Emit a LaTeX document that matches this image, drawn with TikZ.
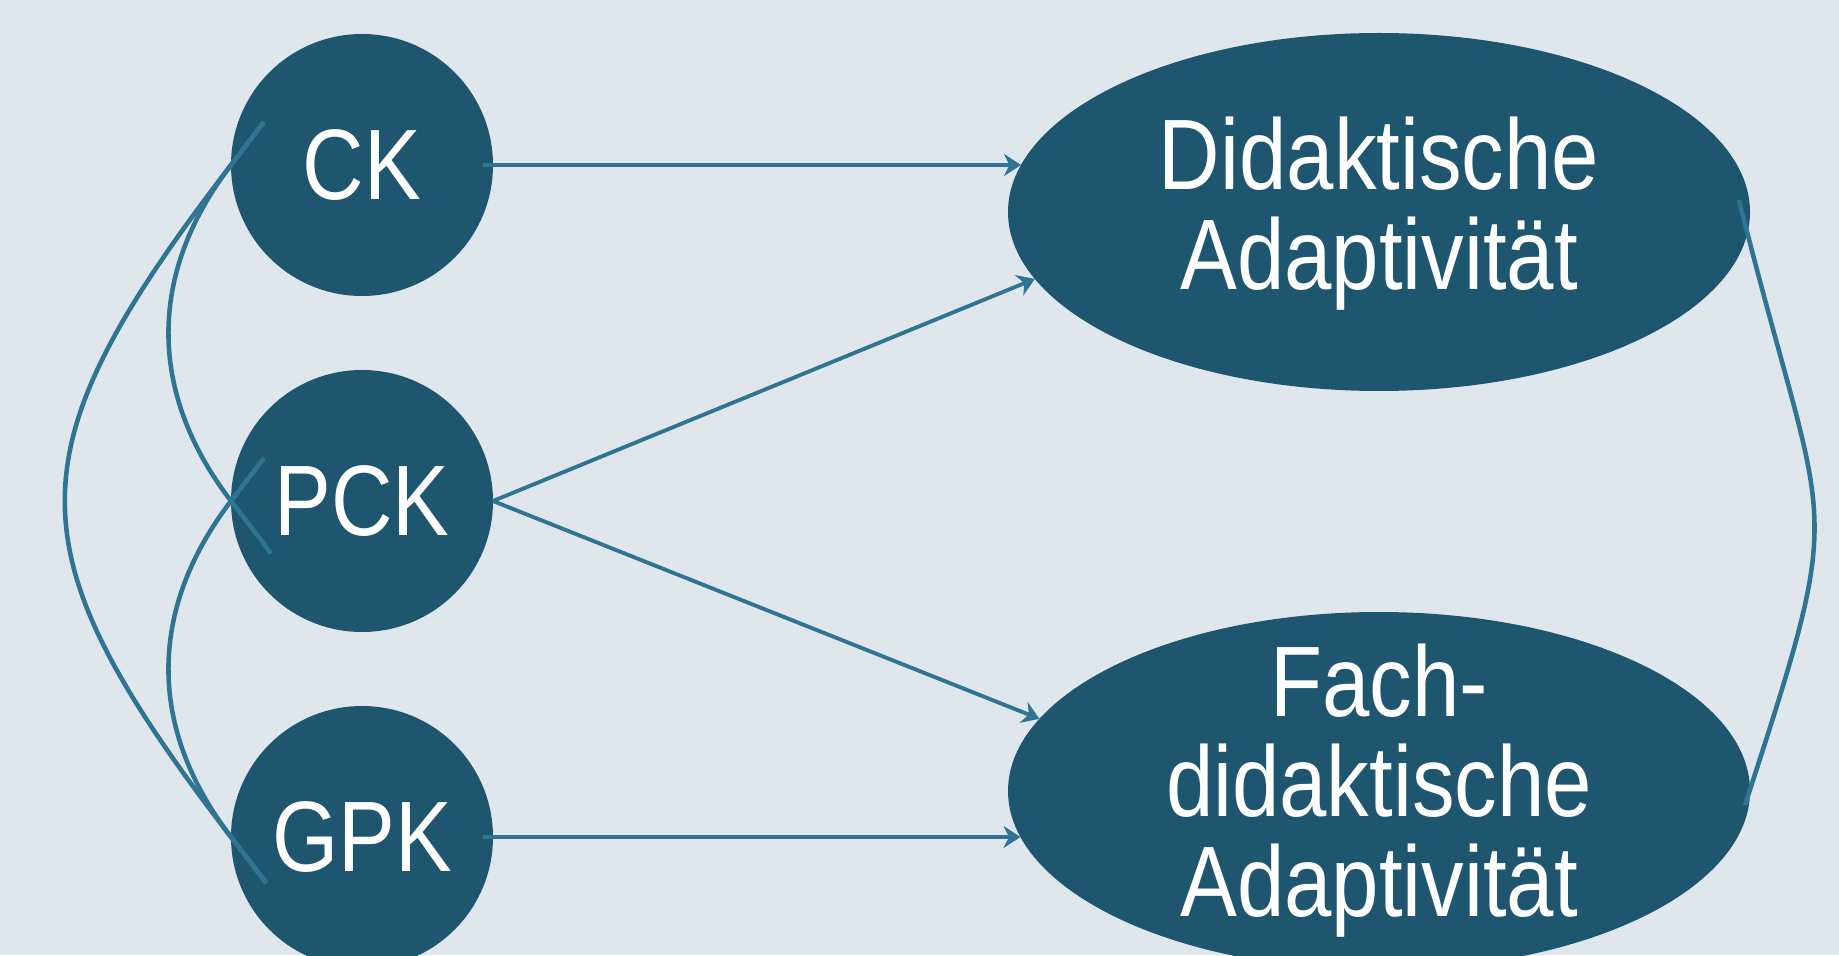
\documentclass[tikz,border=0pt]{standalone}
\usepackage{fontspec}
\setmainfont{Liberation Sans}[FakeStretch=0.85]
\usepackage{tikz}
\usetikzlibrary{arrows.meta,shapes.geometric}
\definecolor{hinter}{RGB}{223,231,237}
\definecolor{knoten}{RGB}{30,86,112}
\definecolor{linie}{RGB}{47,117,147}

\begin{document}
\begin{tikzpicture}[
  kreis/.style={circle, fill=knoten, text=white, minimum size=2.62cm, inner sep=0pt, outer sep=0pt,
                font=\fontsize{28.5}{28.45}\selectfont},
  oval/.style={ellipse, fill=knoten, minimum width=7.42cm, minimum height=3.58cm, inner sep=0pt, outer sep=0pt},
  ovaltext/.style={align=center, text=white, inner sep=0pt, font=\fontsize{28.5}{28.45}\selectfont},
  pfeil/.style={-{Stealth[length=1.7mm, width=2.2mm]}, linie, line width=1.1pt},
  bogen/.style={linie, line width=1.3pt}]
  \useasboundingbox (0,0) rectangle (18.39,9.55);
  \fill[hinter] (0,0) rectangle (18.39,9.55);
  \clip (0,0) rectangle (18.39,9.55);
  \node[kreis] (ck)   at (3.62, 7.90)  {CK};
  \node[kreis] (pck)  at (3.62, 4.54)  {PCK};
  \node[kreis] (gpk)  at (3.62, 1.18)  {GPK};
  \node[oval]  (dida) at (13.79, 7.43) {};
  \node[oval]  (fach) at (13.79, 1.64) {};
  \node[ovaltext, yshift=-0.02cm] (didatext) at (dida) {Didaktische\\Adaptivität};
  \node[ovaltext] (fachtext) at (fach) {Fach-\\didaktische\\Adaptivität};
  \draw[pfeil] ([xshift=-1mm]ck.east) -- ([xshift=1.3mm]ck.east -| dida.west);
  \draw[pfeil] (pck.east) -- (dida.191.6);
  \draw[pfeil] (pck.east) -- (fach.168.2);
  \draw[pfeil] ([xshift=-1mm]gpk.east) -- ([xshift=1.25mm]gpk.east -| fach.west);
  \draw[bogen] ([shift={(52.5:0.52)}]ck.west) -- (ck.west)
    to[out=232.5, in=127.5, distance=3.64cm] (gpk.west) -- ++(-52.5:0.58);
  \draw[bogen] ([shift={(52.5:0.54)}]ck.west) -- (ck.west)
    to[out=232.5, in=127.5, distance=1.37cm] (pck.west) -- ++(-52.5:0.66);
  \draw[bogen] ([shift={(52.5:0.54)}]pck.west) -- (pck.west)
    to[out=232.5, in=127.5, distance=1.37cm] (gpk.west) -- ++(-52.5:0.58);
  \draw[bogen] ([shift={(-0.11,0.12)}]dida.east)
    to[out=-76, in=72, out distance=3.6cm, in distance=3.4cm] ([shift={(-0.05,-0.14)}]fach.east);
\end{tikzpicture}
\end{document}
